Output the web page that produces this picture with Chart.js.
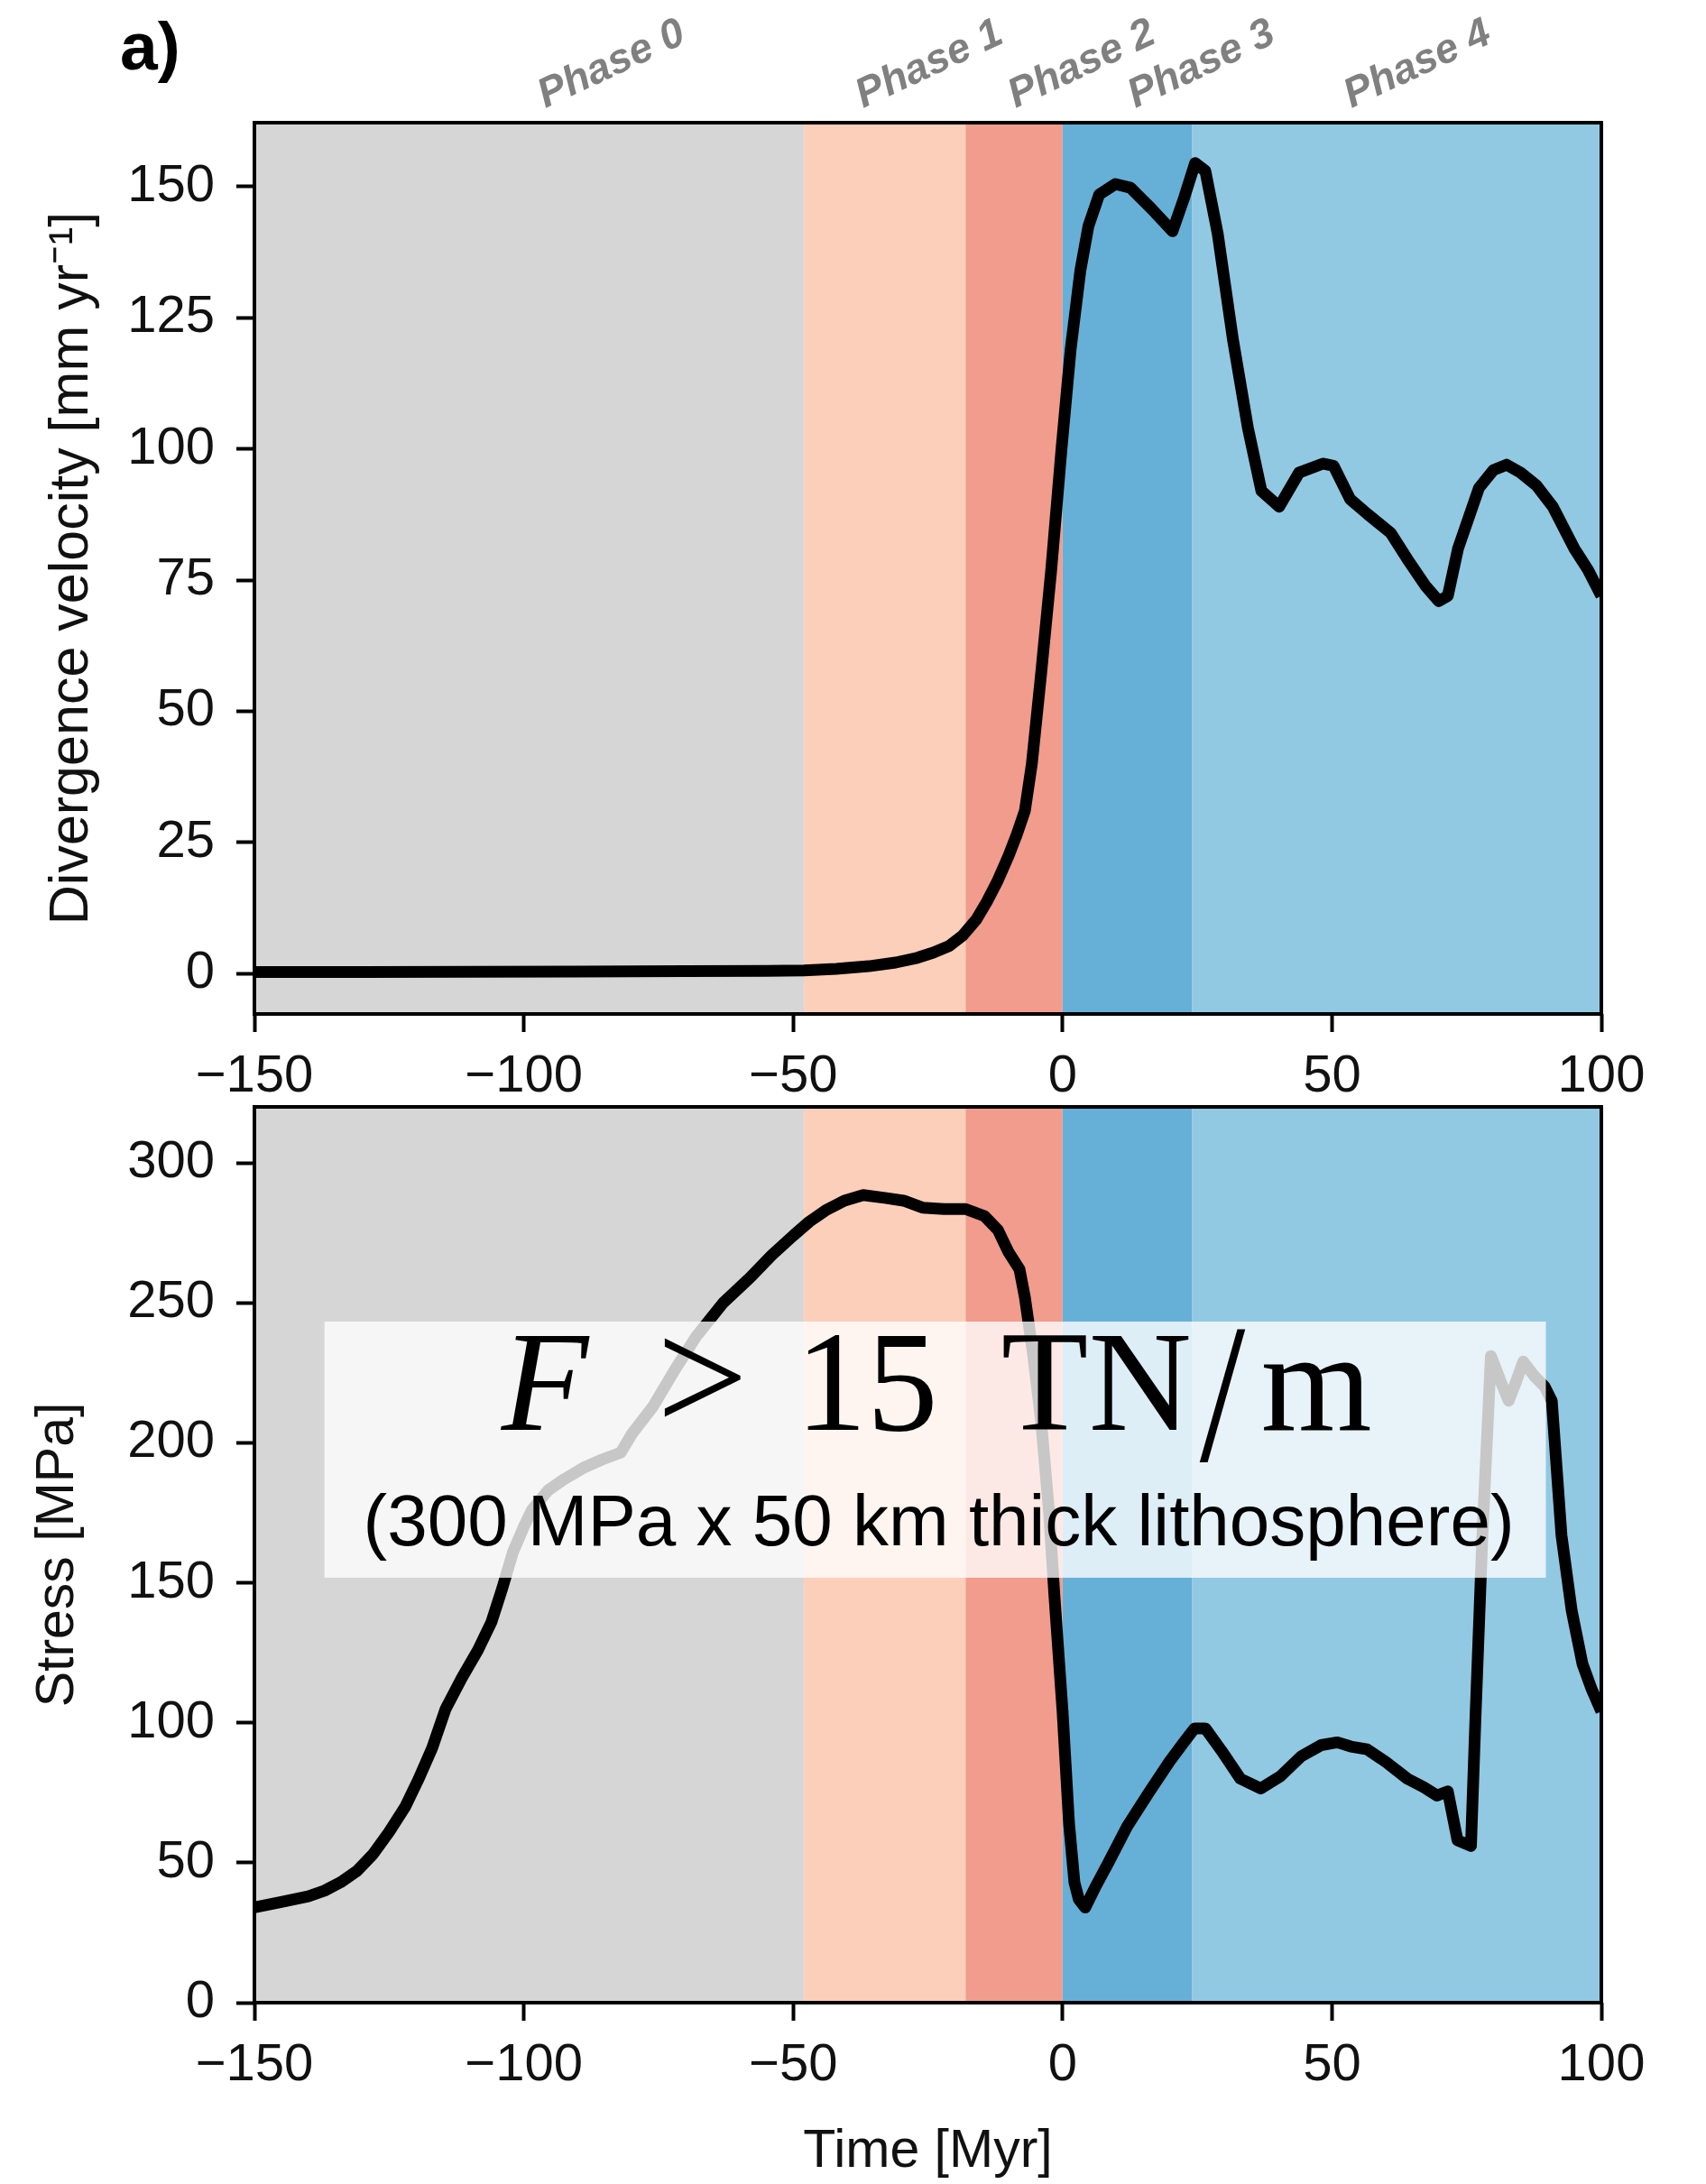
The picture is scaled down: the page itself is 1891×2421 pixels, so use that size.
<!DOCTYPE html>
<html>
<head>
<meta charset="utf-8">
<script src="https://cdn.jsdelivr.net/npm/chart.js@4.4.1/dist/chart.umd.min.js"></script>
<style>
html,body{margin:0;padding:0;background:#fff;}
#wrap{position:relative;width:1891px;height:2421px;overflow:hidden;}
#c1{position:absolute;left:0;top:0;}
#c2{position:absolute;left:0;top:1224px;}
</style>
</head>
<body>
<div id="wrap">
<canvas id="c1" width="1891" height="1224" style="width:1891px;height:1224px"></canvas>
<canvas id="c2" width="1891" height="1197" style="width:1891px;height:1197px"></canvas>
</div>
<script>
// ---------------- data ----------------
const timeV = [-150,-130,-110,-90,-70,-55,-48,-42,-36,-31,-27,-24,-21,-18.5,-16,-14,-12,-10,-8.5,-7,
  -5.7,-4,-2.1,-0.2,1.5,3.3,4.8,6.8,9.8,12.6,16.5,20.4,22.6,24.6,26.5,28.8,31.6,34.4,36.9,40.2,
  43.9,48.3,50.3,53.4,56.7,60.9,64,67.3,69.8,71.5,73.4,77.3,80,82.4,85,88,91,93,95,97.5,100];
const velocity = [0.3,0.3,0.35,0.4,0.45,0.5,0.6,0.9,1.4,2.1,3.0,4.0,5.3,7.3,10.3,13.8,17.8,22.5,26.5,31,
  40,57,77,100,119,134,142.5,148.5,150.5,149.8,145.8,141.5,148,154.5,153,141,121,104,92,89,
  95.5,97.2,96.8,90.4,87.5,84,79,74,71,72,81,92.6,96,97,95.5,93,89,85,81,77,72];

const timeS = [-150,-145,-140,-137,-134,-131,-128,-125,-122,-119.5,-117,-114.5,-111.5,-108.5,-106,-104,-102,-100,-98.5,-95.5,
  -92.5,-89,-85.5,-82,-80,-76,-72,-68,-63,-58,-54,-50,-47,-44,-40.5,-37,-33,-29.5,-26,-22,
  -18,-14.5,-12,-10,-8,-7,-5.5,-4,-2.5,-1.5,0,1.2,2.2,3,4.2,6,8.5,12,16,19.8,
  22.5,24.5,26.5,29.5,33,36.8,40.5,44.3,48,51,53.5,56.5,60,64,67,69.5,71.5,73.3,75.8,76.6,
  77.9,79.5,81.3,82.8,84.2,85.5,87.5,89.5,90.8,92.6,94.5,96.5,98.2,100];
const stress = [34,36,38,40,43,47,53,61,70,80,91,105,116,126,136,148,161,170,176,183,
  187,191,194,196.5,203,213,226,238,250,259,267,274,279,283,286.5,288.5,287.5,286.5,284,283.5,
  283.5,281,276,268,262,252,232,208,175,145,104,64,43,37,34,41,50,63,75,86,
  93,98,98,90,80,76.5,81,88,92,93,91.5,90.5,86,80,77,74,75.5,58,56,100,
  166,231,222,215,222,229,224,220,215,167,140,121,112,104];

const xTickValues = [-150,-100,-50,0,50,100];
const xTickLabels = ['\u2212150','\u2212100','\u221250','0','50','100'];
const vTickValues = [0,25,50,75,100,125,150];
const sTickValues = [0,50,100,150,200,250,300];

const phaseNames  = ['Phase 0','Phase 1','Phase 2','Phase 3','Phase 4'];
const phaseEdges  = [-150,-48,-18,0,24,100];
const phaseColors = ['#d6d6d6','#fccfbb','#f19c8c','#66b0d7','#91c9e3'];
const phaseLabelX = [-96,-37,-8.7,13.5,53.6];

const panelLetter = 'a)';
const forceLine2 = '(300 MPa x 50 km thick lithosphere)';

// ---------------- helpers ----------------
Chart.defaults.font.family = '"Liberation Sans", Arial, Helvetica, sans-serif';
Chart.defaults.color = '#111';

const SANS = '"Liberation Sans", Arial, Helvetica, sans-serif';
const SERIF = '"Liberation Serif", "Times New Roman", serif';

function toXY(xs, ys){ return xs.map((x,i)=>({x:x, y:ys[i]})); }

const bandsAndFrame = {
  id:'bandsAndFrame',
  beforeDraw(chart){
    const {ctx, chartArea:a, scales:{x}} = chart;
    ctx.save();
    for (let i=0;i<phaseColors.length;i++){
      const x0 = x.getPixelForValue(phaseEdges[i]);
      const x1 = x.getPixelForValue(phaseEdges[i+1]);
      ctx.fillStyle = phaseColors[i];
      ctx.fillRect(x0, a.top, x1-x0, a.bottom-a.top);
    }
    ctx.restore();
  },
  afterDatasetsDraw(chart){
    const {ctx, chartArea:a} = chart;
    ctx.save();
    ctx.strokeStyle = '#000';
    ctx.lineWidth = 4;
    ctx.strokeRect(a.left, a.top, a.right-a.left, a.bottom-a.top);
    ctx.restore();
  }
};

const topLabels = {
  id:'topLabels',
  afterDraw(chart){
    const {ctx, chartArea:a, scales:{x}} = chart;
    ctx.save();
    ctx.fillStyle = '#808080';
    ctx.font = 'italic bold 46px ' + SANS;
    ctx.textAlign = 'left';
    ctx.textBaseline = 'alphabetic';
    for (let i=0;i<phaseNames.length;i++){
      const px = x.getPixelForValue(phaseLabelX[i]);
      ctx.save();
      ctx.translate(px, a.top - 16);
      ctx.rotate(-25*Math.PI/180);
      ctx.fillText(phaseNames[i], 0, 0);
      ctx.restore();
    }
    ctx.fillStyle = '#000';
    ctx.font = 'bold 75px ' + SANS;
    ctx.fillText(panelLetter, a.left - 149, a.top - 59);
    ctx.restore();
  }
};

const forceBox = {
  id:'forceBox',
  afterDatasetsDraw(chart){
    const {ctx, scales:{x,y}} = chart;
    const L = x.getPixelForValue(-137), R = x.getPixelForValue(89.7);
    const T = y.getPixelForValue(243.3), B = y.getPixelForValue(151.8);
    ctx.save();
    ctx.fillStyle = 'rgba(255,255,255,0.78)';
    ctx.fillRect(L, T, R-L, B-T);
    ctx.fillStyle = '#000';
    ctx.textBaseline = 'alphabetic';
    ctx.textAlign = 'left';
    const base1 = T + 120;
    ctx.font = 'italic 158px ' + SERIF;
    ctx.fillText('F', L + 196, base1);
    ctx.font = '180px ' + SERIF;
    ctx.fillText('>', L + 368, base1 + 2);
    ctx.font = '158px ' + SERIF;
    ctx.fillText('15', L + 522, base1);
    ctx.fillText('T', L + 750, base1);
    ctx.fillText('N', L + 847, base1);
    ctx.save();
    ctx.translate(L + 970, base1 + 34);
    ctx.scale(1.15, 1.4);
    ctx.fillText('/', 0, 0);
    ctx.restore();
    ctx.fillText('m', L + 1038, base1);
    ctx.font = '80px ' + SANS;
    ctx.textAlign = 'center';
    ctx.fillText(forceLine2, (L+R)/2 + 4, T + 248);
    ctx.restore();
  }
};

function xScale(height, title, titlePad){
  return {
    type:'linear', min:-150, max:100,
    afterBuildTicks: s => { s.ticks = xTickValues.map(v=>({value:v})); },
    afterFit: s => { s.height = height; s.paddingLeft = 0; s.paddingRight = 0; },
    ticks:{ callback:(v)=> xTickLabels[xTickValues.indexOf(v)], font:{size:58}, color:'#111', padding:15, maxRotation:0, autoSkip:false },
    grid:{ drawOnChartArea:false, drawTicks:true, tickLength:20, tickWidth:4, tickColor:'#000' },
    border:{ display:false },
    title: title ? { display:true, text:title, font:{size:59}, color:'#111', padding:{top:0,bottom:titlePad} } : { display:false }
  };
}
function yScale(min, max, tickVals, title, titlePad, titleSize){
  return {
    type:'linear', min:min, max:max,
    afterBuildTicks: s => { s.ticks = tickVals.map(v=>({value:v})); },
    afterFit: s => { s.width = 282; s.paddingTop = 0; s.paddingBottom = 0; },
    ticks:{ font:{size:58}, color:'#111', padding:24, autoSkip:false },
    grid:{ drawOnChartArea:false, drawTicks:true, tickLength:20, tickWidth:4, tickColor:'#000' },
    border:{ display:false },
    title:{ display:true, text:title, font:{size:titleSize}, color:'#111', padding:{top:titlePad,bottom:0} }
  };
}

function lineDataset(xs, ys){
  return { data: toXY(xs, ys), borderColor:'#000', borderWidth:13, pointRadius:0, tension:0,
           borderJoinStyle:'round', borderCapStyle:'butt', fill:false };
}

new Chart(document.getElementById('c1'), {
  type:'line',
  data:{ datasets:[ lineDataset(timeV, velocity) ] },
  options:{
    responsive:false, animation:false, devicePixelRatio:1, events:[],
    layout:{ padding:{ top:136, right:116, left:0, bottom:0 } },
    plugins:{ legend:{display:false}, tooltip:{enabled:false} },
    scales:{
      x: xScale(100, null, 0),
      y: yScale(-7.7, 162.2, vTickValues, 'Divergence velocity [mm yr\u207B\u00B9]', 44, 61)
    }
  },
  plugins:[bandsAndFrame, topLabels]
});

new Chart(document.getElementById('c2'), {
  type:'line',
  data:{ datasets:[ lineDataset(timeS, stress) ] },
  options:{
    responsive:false, animation:false, devicePixelRatio:1, events:[],
    layout:{ padding:{ top:3, right:116, left:0, bottom:0 } },
    plugins:{ legend:{display:false}, tooltip:{enabled:false} },
    scales:{
      x: xScale(201, 'Time [Myr]', 0),
      y: yScale(0, 320, sTickValues, 'Stress [MPa]', 29, 59)
    }
  },
  plugins:[bandsAndFrame, forceBox]
});
</script>
</body>
</html>
